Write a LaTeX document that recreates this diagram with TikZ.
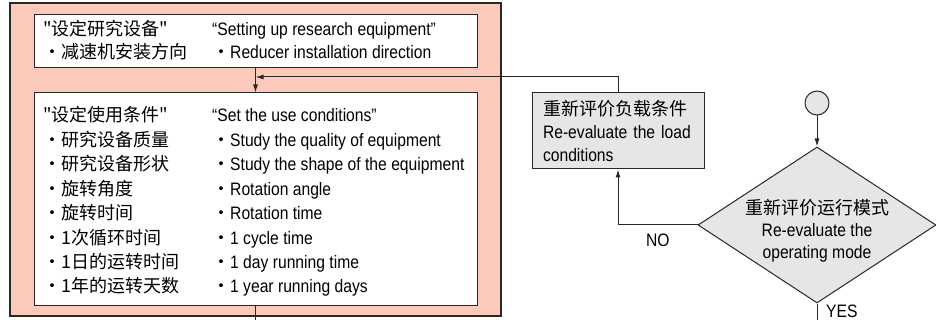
\documentclass[tikz,border=0pt]{standalone}
\usepackage{fontspec}
\usepackage{tikz}
\usetikzlibrary{shapes.geometric, arrows.meta, positioning, calc}
\setmainfont{Liberation Sans}[FakeStretch=0.87]
\newfontfamily\cjk{Noto Sans CJK SC}
\definecolor{framecolor}{RGB}{251, 202, 187}
\definecolor{evalcolor}{RGB}{230, 230, 230}
\definecolor{linecolor}{RGB}{40, 40, 40}
\newcommand{\bul}{{\cjk ・}}

\begin{document}
\begin{tikzpicture}[
    x=1pt, y=-1pt,
    every node/.style={font=\fontsize{18}{23}\selectfont, text=black},
    box/.style={rectangle, draw=linecolor, line width=1pt, fill=white, inner sep=0pt},
    evalbox/.style={rectangle, draw=linecolor, line width=1pt, fill=evalcolor, inner sep=0pt},
    txt/.style={anchor=base west, inner sep=0pt},
    flow/.style={draw=linecolor, line width=1pt, -{Latex[length=8pt, width=5pt]}}
]
\useasboundingbox (0,0) rectangle (936,320);

% Frame with the two white boxes
\node[rectangle, draw=linecolor, line width=1.6pt, fill=framecolor, minimum width=491pt, minimum height=313pt] (frame) at (255.5,159.5) {};
\node[box, minimum width=443pt, minimum height=53pt] (setup) at (255.5,41.5) {};
\node[box, minimum width=443pt, minimum height=212pt] (use) at (255.5,199) {};

% Setup texts
\node[txt] (setupcn1) at (43,35.5) {\cjk "设定研究设备"};
\node[txt] (setupcn2) at (43,58.5) {\cjk ・减速机安装方向};
\node[txt] (setupen1) at (212,35.5) {“Setting up research equipment”};
\node[txt] (setupen2) at (212,58.5) {\bul Reducer installation direction};

% Use condition texts
\foreach \line [count=\i] in {"设定使用条件", ・研究设备质量, ・研究设备形状, ・旋转角度, ・旋转时间, ・1次循环时间, ・1日的运转时间, ・1年的运转天数}
    \node[txt] (usecn\i) at (43,97.6+24.4*\i) {\cjk \line};
\node[txt] (useen1) at (212,122) {“Set the use conditions”};
\foreach \line [count=\i from 2] in {Study the quality of equipment, Study the shape of the equipment, Rotation angle, Rotation time, 1 cycle time, 1 day running time, 1 year running days}
    \node[txt] (useen\i) at (212,97.6+24.4*\i) {\bul \line};

% Re-evaluation
\node[evalbox, minimum width=172pt, minimum height=76pt, align=left, text width=150pt] (load) at (618,131)
    {{\cjk 重新评价负载条件}\\Re-evaluate the load\\conditions};
\node[circle, draw=linecolor, line width=1pt, fill=evalcolor, minimum size=24pt, inner sep=0pt] (start) at (817,103) {};
\node[diamond, draw=linecolor, line width=1pt, fill=evalcolor, minimum width=238pt, minimum height=156pt, inner sep=0pt] (mode) at (817,225) {};
\node[align=center, font=\fontsize{18}{22}\selectfont, inner sep=0pt] (modetext) at (817,231) {{\cjk 重新评价运行模式}\\Re-evaluate the\\operating mode};

% Connectors
\coordinate (join) at (255.5,77);
\coordinate (useend) at (255.5,330);
\coordinate (yesend) at (817,330);
\draw[flow] (setup.south) -- (use.north);
\draw[flow] (load.north) |- (join);
\draw[flow] (start) -- (mode.north);
\draw[flow] (mode.west) -| (load.south) node[pos=0.25, below=5pt] (no) {NO};
\draw[draw=linecolor, line width=1pt] (mode.south) -- (yesend);
\draw[draw=linecolor, line width=1pt] (use.south) -- (useend);
\node[txt] (yes) at (826,317) {YES};

\end{tikzpicture}
\end{document}
